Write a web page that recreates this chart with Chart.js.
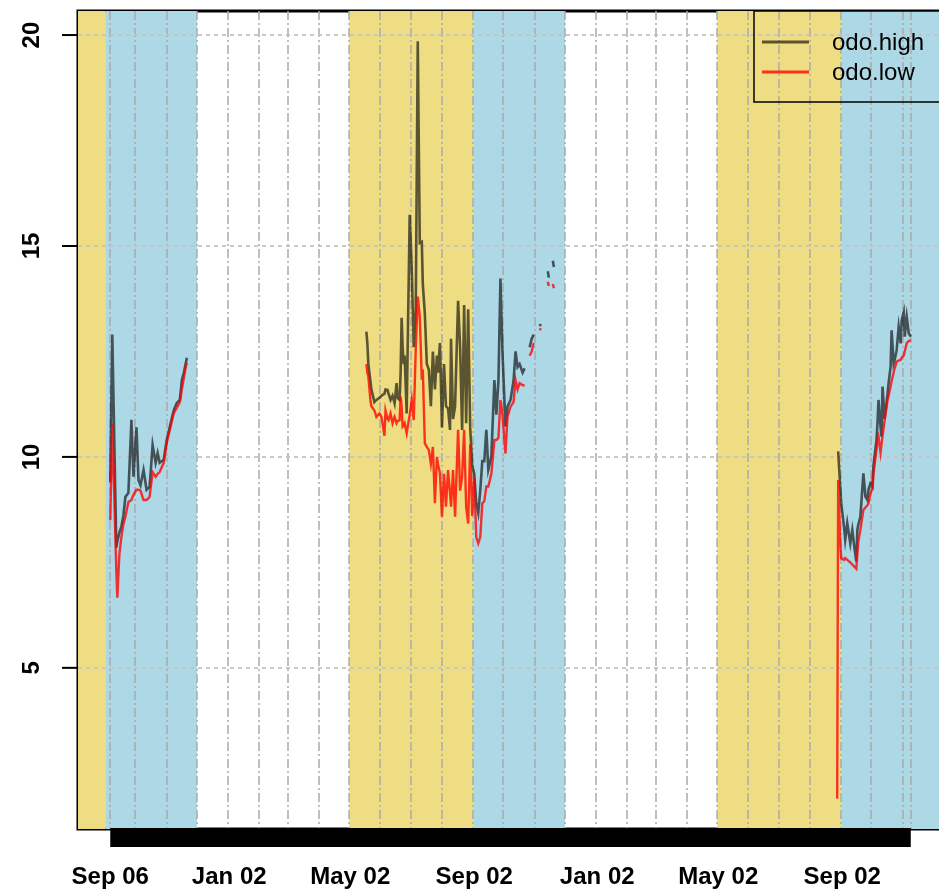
<!DOCTYPE html>
<html>
<head>
<meta charset="utf-8">
<script src="https://cdn.jsdelivr.net/npm/chart.js@4/dist/chart.umd.min.js"></script>
<style>
  html, body { margin: 0; padding: 0; background: #fff; }
  #wrap { width: 939px; height: 895px; }
</style>
</head>
<body>
<div id="wrap"><canvas id="chart"></canvas></div>
<script>
// ── Data (x = days since Sep 06 of the first season) ─────────────
const days = [
  0, 2, 6, 7, 9, 11, 13, 15, 18, 21, 23, 26, 28, 30, 33, 36, 39, 42, 45, 47,
  49, 53, 56, 59, 63, 66, 69, 71, 73, 75, 76,
  150,
  254, 255, 256, 258, 259, 262, 264, 267, 269, 272, 273, 275, 276, 278, 280, 282, 284, 285,
  287, 288, 289, 290, 291, 292, 294, 297, 299, 301, 303, 305, 307, 309, 310, 312, 314, 316,
  318, 320, 322, 324, 325, 327, 329, 331, 333, 335, 337, 338, 340, 342, 345, 347, 349, 351,
  353, 355, 357, 359, 361, 363, 365, 367, 369, 371, 373, 375, 378, 381, 383, 385, 387, 389,
  392, 394, 397, 400, 402, 404, 406, 409, 411,
  413, 416, 418, 420, 422, 426, 427, 430, 434, 435, 437, 439, 440,
  600,
  721, 722, 724, 725, 728, 729, 731, 734, 736, 738, 740, 741, 742, 744, 747, 749, 751, 752,
  754, 756, 757, 760, 761, 762, 764, 765, 766, 768, 771, 772, 774, 775, 777, 778, 780, 782,
  784, 785, 787, 788, 790, 792, 794
];

const odoHigh = [
  9.4, 12.9, 7.85, 8.0, 8.2, 8.35, 8.6, 9.05, 9.15, 10.88, 9.53, 10.7, 9.45, 9.33, 9.69, 9.22, 9.29, 10.28, 9.86, 10.09,
  9.86, 9.93, 10.4, 10.71, 11.11, 11.28, 11.35, 11.82, 12.0, 12.23, 12.35,
  null,
  12.97, 12.7, 12.2, 11.8, 11.6, 11.3, 11.35, 11.4, 11.45, 11.5, 11.6, 11.59, 11.5, 11.35, 11.45, 11.27, 11.75, 11.4,
  11.35, 12.0, 13.3, 12.6, 12.2, 12.4, 11.03, 15.74, 14.5, 12.6, 13.5, 19.85, 15.07, 15.1, 14.1, 13.4, 12.2, 12.07,
  11.2, 12.5, 11.6, 12.4, 12.0, 12.7, 10.7, 12.2, 11.2, 11.15, 10.64, 12.8, 10.9, 11.2, 13.7, 12.6, 10.64, 13.6,
  10.8, 13.5, 10.7, 9.8, 9.6, 8.9, 8.67, 9.2, 9.9, 9.9, 10.64, 9.7, 10.0, 11.82, 11.0, 11.8, 14.23, 12.5,
  10.72, 11.19, 11.35, 11.8, 12.5, 12.13, 12.2, 12.0, 12.1,
  null, 12.6, 12.8, 12.9, null, 13.15, 13.1, null, 14.4, 14.25, null, 14.65, 14.5,
  null,
  null, 10.13, 9.3, 8.9, 8.3, 8.04, 8.43, 7.95, 8.27, 7.87, 7.52, 8.27, 8.4, 8.58, 9.61, 9.06, 8.98, 9.22,
  9.37, 9.3, 9.8, 10.4, 10.8, 11.35, 10.72, 10.48, 11.67, 10.9, 11.5, 11.75, 12.14, 13.0, 12.22, 12.3, 12.53, 13.08,
  12.69, 13.24, 13.43, 12.85, 13.32, 12.93, 12.85
];

const odoLow = [
  8.5, 10.8, 7.3, 6.66, 7.68, 8.1, 8.4, 8.58, 8.93, 8.98, 9.1, 9.22, 9.22, 9.2, 8.98, 8.98, 9.05, 9.64, 9.53, 9.6,
  9.64, 9.86, 10.33, 10.64, 11.04, 11.16, 11.3, 11.6, 11.87, 12.15, 12.23,
  null,
  12.2, 12.0, 11.9, 11.35, 11.2, 11.1, 10.95, 11.03, 10.95, 10.5, 11.1, 10.9, 10.87, 11.03, 10.8, 10.95, 10.8, 10.85,
  10.87, 11.43, 11.2, 10.72, 10.75, 10.8, 10.56, 11.0, 11.35, 10.87, 12.54, 13.8, 13.33, 11.83, 12.07, 10.32, 10.24, 10.16,
  9.84, 10.24, 8.9, 10.0, 9.84, 9.61, 8.58, 9.6, 8.82, 9.69, 9.14, 8.82, 9.69, 8.58, 10.64, 9.2, 9.53, 10.64,
  8.82, 8.42, 10.3, 8.6, 9.5, 8.1, 7.95, 8.1, 8.9, 8.95, 9.3, 9.3, 9.6, 10.4, 10.4, 10.45, 11.35, 11.0,
  10.08, 10.95, 11.19, 11.3, 11.82, 11.6, 11.75, 11.7, 11.7,
  null, 12.4, 12.5, 12.7, null, 13.0, 13.05, null, 14.15, 14.05, null, 14.1, 14.0,
  null,
  1.9, 9.45, 8.0, 7.6, 7.56, 7.6, 7.56, 7.5, 7.45, 7.4, 7.35, 7.7, 8.0, 8.27, 8.74, 8.8, 8.85, 8.9,
  9.14, 9.25, 9.6, 10.17, 10.4, 10.48, 10.1, 10.3, 10.5, 10.85, 11.35, 11.45, 11.67, 11.8, 12.0, 12.1, 12.26, 12.28,
  12.3, 12.35, 12.4, 12.5, 12.7, 12.75, 12.77
];

// axis labels
const tickDays = [0, 118, 238, 361, 483, 603, 726];
const tickLabels = ['Sep 06', 'Jan 02', 'May 02', 'Sep 02', 'Jan 02', 'May 02', 'Sep 02'];
const gridDays = [0, 25, 56, 86, 117, 148, 176, 207, 237, 268, 298, 329, 360, 390, 421, 451,
  482, 513, 541, 572, 602, 633, 663, 694, 725, 755, 786, 794];
const yTicks = [5, 10, 15, 20];

// season shading (summer / autumn)
const bandStart = [-32, -5, 237, 360, 602, 725];
const bandEnd = [-5, 86, 360, 451, 725, 822];
const bandColor = ['#EEDD82', '#ADD8E6', '#EEDD82', '#ADD8E6', '#EEDD82', '#ADD8E6'];

const LABEL_FONT = '"Liberation Sans", Arial, Helvetica, sans-serif';

// ── Background, grid, frame, legend ─────────────────
const decorations = {
  id: 'decorations',
  beforeDraw(chart) {
    const { ctx, chartArea: a, scales: { x } } = chart;
    ctx.save();
    // frame first; the bands cover its inner half
    ctx.strokeStyle = '#000';
    ctx.lineWidth = 3;
    ctx.beginPath();
    ctx.moveTo(a.right + 5, a.top);
    ctx.lineTo(a.left, a.top);
    ctx.lineTo(a.left, a.bottom);
    ctx.lineTo(a.right + 5, a.bottom);
    ctx.stroke();
    bandStart.forEach((s, i) => {
      const x0 = Math.max(x.getPixelForValue(s), a.left);
      const x1 = Math.min(x.getPixelForValue(bandEnd[i]), a.right);
      ctx.fillStyle = bandColor[i];
      ctx.fillRect(x0, a.top, x1 - x0, a.bottom - a.top);
    });
    ctx.restore();
  },
  beforeDatasetsDraw(chart) {
    const { ctx, chartArea: a, scales: { x, y } } = chart;
    ctx.save();
    ctx.lineWidth = 2;
    ctx.strokeStyle = 'rgba(170,170,170,0.75)';
    ctx.setLineDash([9, 3, 2, 3]);
    gridDays.forEach((d) => {
      const px = Math.round(x.getPixelForValue(d));
      ctx.beginPath();
      ctx.moveTo(px, a.top);
      ctx.lineTo(px, a.bottom);
      ctx.stroke();
    });
    ctx.strokeStyle = 'rgba(195,195,195,0.9)';
    ctx.setLineDash([4, 4]);
    yTicks.forEach((v) => {
      const py = Math.round(y.getPixelForValue(v));
      ctx.beginPath();
      ctx.moveTo(a.left, py);
      ctx.lineTo(a.right, py);
      ctx.stroke();
    });
    ctx.restore();
  },
  afterDraw(chart) {
    const { ctx, chartArea: a, scales: { x, y } } = chart;
    ctx.save();
    // dense daily tick marks under the data span
    const x0 = x.getPixelForValue(days[0]);
    const x1 = x.getPixelForValue(days[days.length - 1]);
    ctx.fillStyle = '#000';
    ctx.fillRect(x0, a.bottom - 1, x1 - x0, 19);

    // y ticks + rotated labels
    ctx.strokeStyle = '#000';
    ctx.lineWidth = 2;
    ctx.font = 'bold 24px ' + LABEL_FONT;
    ctx.textAlign = 'center';
    ctx.textBaseline = 'middle';
    yTicks.forEach((v) => {
      const py = y.getPixelForValue(v);
      ctx.beginPath();
      ctx.moveTo(a.left - 16, py);
      ctx.lineTo(a.left, py);
      ctx.stroke();
      ctx.save();
      ctx.translate(a.left - 46, py);
      ctx.rotate(-Math.PI / 2);
      ctx.fillText(String(v), 0, 0);
      ctx.restore();
    });

    // legend box
    const lx = 754, ly = a.top, lh = 91;
    ctx.lineWidth = 1.5;
    ctx.strokeRect(lx, ly, a.right - lx + 10, lh);
    ctx.font = '24px ' + LABEL_FONT;
    ctx.textAlign = 'left';
    chart.data.datasets.forEach((ds, i) => {
      const yy = ly + 31 + i * 30;
      ctx.strokeStyle = ds.borderColor;
      ctx.lineWidth = 3;
      ctx.beginPath();
      ctx.moveTo(lx + 8, yy);
      ctx.lineTo(lx + 55, yy);
      ctx.stroke();
      ctx.fillStyle = '#000';
      ctx.fillText(ds.label, lx + 78, yy + 1);
    });
    ctx.restore();
  },
};

const toPoints = (vals) => days.map((d, i) => ({ x: d, y: vals[i] }));

new Chart(document.getElementById('chart'), {
  type: 'line',
  data: {
    datasets: [
      {
        label: 'odo.high',
        data: toPoints(odoHigh),
        borderColor: 'rgba(0,0,0,0.62)',
        borderWidth: 2.6,
        pointRadius: 0,
        spanGaps: false,
        order: 2,
      },
      {
        label: 'odo.low',
        data: toPoints(odoLow),
        borderColor: 'rgba(255,0,0,0.78)',
        borderWidth: 2.4,
        pointRadius: 0,
        spanGaps: false,
        order: 1,
      },
    ],
  },
  options: {
    responsive: true,
    maintainAspectRatio: false,
    animation: false,
    layout: { padding: { top: 11, left: 0, right: 0, bottom: 0 } },
    plugins: { legend: { display: false }, tooltip: { enabled: false } },
    scales: {
      x: {
        type: 'linear',
        min: -32,
        max: 822,
        afterBuildTicks: (s) => { s.ticks = tickDays.map((v) => ({ value: v })); },
        afterFit: (s) => { s.height = 66; },
        grid: { display: false, drawTicks: false },
        border: { display: false },
        ticks: {
          autoSkip: false,
          maxRotation: 0,
          padding: 34,
          color: '#000',
          font: { family: LABEL_FONT, size: 24, weight: 'bold' },
          callback: (v, i) => tickLabels[i],
        },
      },
      y: {
        min: 1.18,
        max: 20.57,
        afterBuildTicks: (s) => { s.ticks = yTicks.map((v) => ({ value: v })); },
        afterFit: (s) => { s.width = 78; },
        grid: { display: false, drawTicks: false },
        border: { display: false },
        ticks: { display: false },
      },
    },
  },
  plugins: [decorations],
});
</script>
</body>
</html>
